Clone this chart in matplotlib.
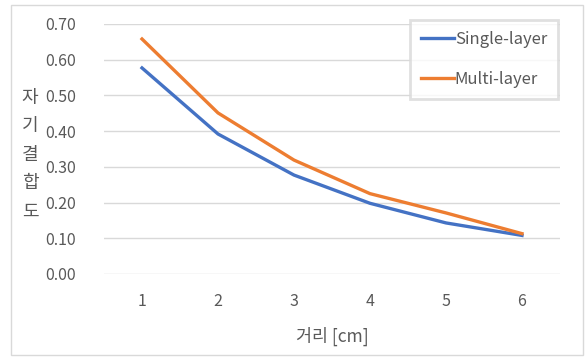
import matplotlib
matplotlib.use("Agg")
import matplotlib.pyplot as plt
from matplotlib.patches import Rectangle

plt.rcParams['font.family'] = ['Noto Sans CJK KR', 'DejaVu Sans']

distance = [1, 2, 3, 4, 5, 6]
single_layer = [0.577, 0.392, 0.277, 0.198, 0.143, 0.108]
multi_layer = [0.658, 0.451, 0.319, 0.225, 0.171, 0.113]
y_ticks = [0.0, 0.1, 0.2, 0.3, 0.4, 0.5, 0.6, 0.7]

text_col = '#595959'
grid_col = '#D9D9D9'

W, H = 587, 359
fig = plt.figure(figsize=(W / 100, H / 100), dpi=100)
fig.patches.append(Rectangle((11 / W, 1 - 355 / H), 572 / W, 350 / H,
                             transform=fig.transFigure, fill=False,
                             edgecolor=grid_col, lw=1))

ax = fig.add_axes([104 / W, 1 - 274 / H, 456 / W, 250 / H])
ax.plot(distance, single_layer, color='#4472C4', lw=2.4, label='Single-layer')
ax.plot(distance, multi_layer, color='#ED7D31', lw=2.4, label='Multi-layer')

ax.set_xlim(0.5, 6.5)
ax.set_ylim(0, 0.7)
ax.set_yticks(y_ticks)
ax.set_yticklabels([f'{v:.2f}' for v in y_ticks])
ax.set_xticks(distance)
ax.tick_params(length=0, labelsize=11.5, colors=text_col)
ax.tick_params(axis='y', pad=20)
ax.tick_params(axis='x', pad=14)
ax.grid(axis='y', color=grid_col, lw=1)
ax.set_axisbelow(True)
for s in ax.spines.values():
    s.set_visible(False)

ax.set_xlabel('거리 [cm]', fontsize=12.5, color=text_col, labelpad=12)
fig.text(30 / W, 1 - 155 / H, '자\n기\n결\n합\n도', fontsize=13, color=text_col,
         ha='center', va='center', linespacing=1.75)

leg = ax.legend(loc='upper right', bbox_to_anchor=(558 / 456 - 104 / 456, 1.016),
                frameon=True, fancybox=False, fontsize=12, labelspacing=1.4,
                handlelength=2.0, handletextpad=0.05, borderpad=0.65,
                borderaxespad=0)
leg.get_frame().set_edgecolor(grid_col)
leg.get_frame().set_linewidth(2)
for t in leg.get_texts():
    t.set_color(text_col)

fig.savefig('out.png', dpi=100)
